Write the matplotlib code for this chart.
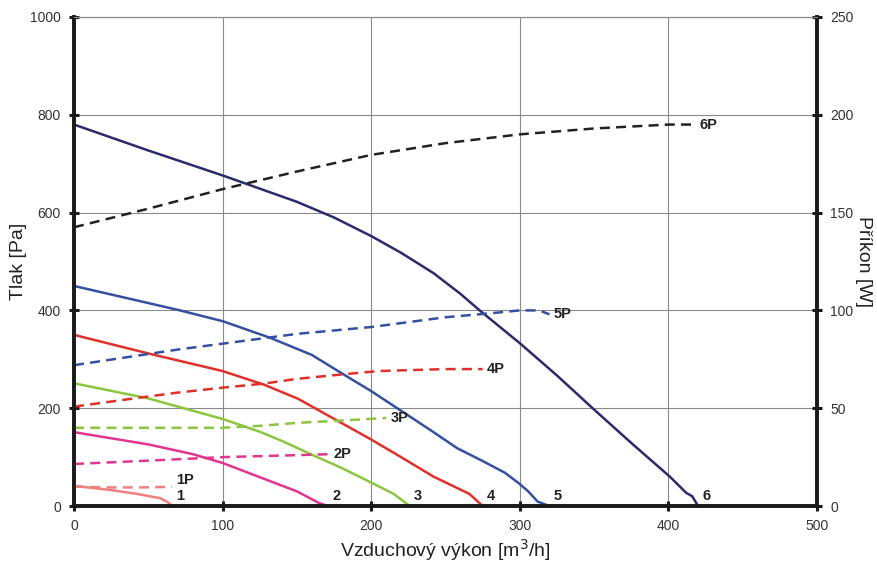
import matplotlib
matplotlib.use("Agg")
import matplotlib.pyplot as plt

plt.rcParams["font.family"] = ["Liberation Sans", "DejaVu Sans"]

# pressure curves [Pa] vs airflow [m3/h]
x1 = [0, 24, 42, 58, 63, 66]
p1 = [41, 33, 25, 16, 8, 0]
x2 = [0, 50, 65, 80, 100, 125, 150, 165, 171]
p2 = [151, 126, 116, 106, 88, 59, 30, 6, 0]
x3 = [0, 50, 100, 125, 140, 160, 180, 200, 215, 226]
p3 = [251, 220, 178, 152, 133, 105, 78, 48, 25, 0]
x4 = [0, 50, 100, 128, 151, 171, 200, 219, 242, 255, 266, 270, 275]
p4 = [350, 312, 276, 248, 219, 185, 136, 102, 60, 41, 25, 14, 0]
x5 = [0, 50, 70, 100, 132, 160, 182, 200, 220, 240, 258, 275, 290, 300, 306, 312, 320]
p5 = [450, 415, 401, 378, 344, 309, 268, 235, 195, 155, 118, 92, 68, 45, 29, 9, 0]
x6 = [0, 50, 100, 150, 175, 200, 220, 242, 260, 273, 300, 325, 349, 375, 401, 412, 416, 420]
p6 = [780, 727, 676, 622, 590, 552, 518, 476, 434, 400, 333, 267, 200, 129, 60, 27, 20, 0]

# power input curves [W]
x1p = [0, 20, 45, 66]
w1p = [10, 9.5, 9.5, 9.8]
x2p = [0, 50, 100, 125, 150, 172]
w2p = [21.5, 23.2, 25, 25.5, 26, 26.5]
x3p = [0, 50, 100, 125, 150, 175, 210]
w3p = [40, 40, 40, 41, 42.5, 43.5, 45]
x4p = [0, 50, 70, 100, 128, 150, 182, 205, 250, 275]
w4p = [50.8, 56, 58, 60.5, 62.6, 65, 67.4, 69, 70, 70]
x5p = [0, 70, 100, 130, 150, 200, 250, 280, 300, 313, 320]
w5p = [72, 80, 83, 86, 88, 91.5, 96.5, 98.5, 100, 100, 98]
x6p = [0, 50, 100, 150, 200, 250, 300, 350, 400, 418]
w6p = [142.5, 152, 162, 171, 179.5, 185.5, 190, 193, 195, 195]

names = ["1", "2", "3", "4", "5", "6"]
colors = ["#ef8080", "#e2358f", "#8cc63f", "#e1302a", "#3550a0", "#2b2a6c"]
pcolors = colors[:5] + ["#222222"]

fig = plt.figure(figsize=(8.78, 5.64), dpi=100)
ax = fig.add_axes([0.0843, 0.1028, 0.8462, 0.8671])
ax2 = ax.twinx()

ax.set_xlim(0, 500)
ax.set_ylim(0, 1000)
ax2.set_ylim(0, 250)
ax.set_xticks(range(0, 501, 100))
ax.set_yticks(range(0, 1001, 200))
ax2.set_yticks(range(0, 251, 50))
ax.grid(True, color="#8a8a8a", lw=0.8)
ax.set_axisbelow(True)

for a in (ax, ax2):
    for s in ("left", "right", "bottom"):
        a.spines[s].set_linewidth(2.6)
        a.spines[s].set_color("#1a1a1a")
    a.spines["top"].set_linewidth(0.8)
    a.spines["top"].set_color("#8a8a8a")
    a.tick_params(direction="inout", length=7, width=2.2, color="#1a1a1a",
                  labelsize=10, labelcolor="#333333", pad=6)

px = [x1, x2, x3, x4, x5, x6]
pp = [p1, p2, p3, p4, p5, p6]
wx = [x1p, x2p, x3p, x4p, x5p, x6p]
ww = [w1p, w2p, w3p, w4p, w5p, w6p]

for i in range(6):
    ax.plot(px[i], pp[i], color=colors[i], lw=1.8, solid_capstyle="butt",
            solid_joinstyle="round")
    ax2.plot(wx[i], ww[i], color=pcolors[i], lw=1.8, linestyle=(0, (4, 2.5)))
    ax.annotate(names[i], (px[i][-1], 0), xytext=(3, 2), textcoords="offset points",
                fontsize=10.5, fontweight="bold", color="#222222", ha="left", va="bottom")
    dy = 5 if i == 0 else 0
    ax2.annotate(names[i] + "P", (wx[i][-1], ww[i][-1]), xytext=(3, dy),
                 textcoords="offset points", fontsize=10.5, fontweight="bold",
                 color="#222222", ha="left", va="center")

ax.set_xlabel("Vzduchový výkon [m$^3$/h]", fontsize=14, color="#222222", labelpad=3)
ax.set_ylabel("Tlak [Pa]", fontsize=14, color="#222222", labelpad=2)
ax2.set_ylabel("Příkon [W]", fontsize=14, color="#222222", rotation=270,
               va="bottom", labelpad=1)

fig.savefig("out.png", dpi=100)
